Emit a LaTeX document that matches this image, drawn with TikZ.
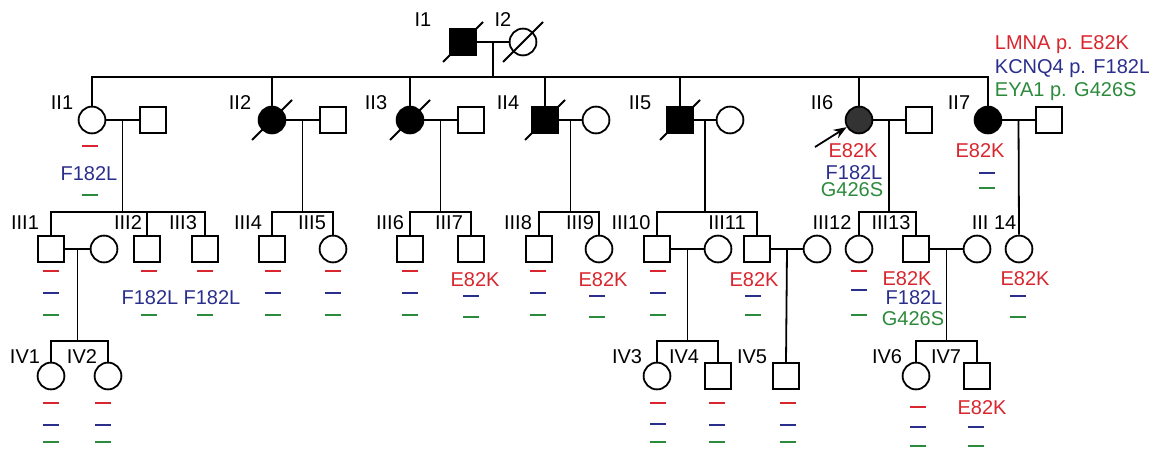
\documentclass[tikz,border=0pt]{standalone}
\usepackage{fontspec}
\setmainfont{Liberation Sans}
\usetikzlibrary{arrows.meta, calc}
\definecolor{mred}{HTML}{D9262E}
\definecolor{mblue}{HTML}{2B2F8C}
\definecolor{mgreen}{HTML}{2C8A3C}

\begin{document}
\begin{tikzpicture}[
    x=0.5pt, y=-0.5pt, line width=0.9pt,
    msym/.style={draw, rectangle, minimum size=12.8pt, inner sep=0pt},
    fsym/.style={draw, circle, minimum size=13.4pt, inner sep=0pt},
    aff/.style={fill=black},
    idlab/.style={font=\fontsize{10}{12}\selectfont, inner sep=0pt},
    mut/.style={font=\fontsize{10}{12}\selectfont, inner sep=0pt},
    wt/.style={line width=0.6pt},
    ar/.style={-{Stealth[length=2.3mm]}}
  ]
  \useasboundingbox (0,0) rectangle (1149,449);

  % generation I
  \node[msym, aff] (i1) at (463,42) {};
  \node[fsym] (i2) at (523,42) {};
  % generation II
  \node[fsym] (ii1) at (92,120) {};
  \node[msym] (ii1p) at (153,120) {};
  \node[fsym, aff] (ii2) at (272,120) {};
  \node[msym] (ii2p) at (333,120) {};
  \node[fsym, aff] (ii3) at (410,120) {};
  \node[msym] (ii3p) at (471,120) {};
  \node[msym, aff] (ii4) at (545,120) {};
  \node[fsym] (ii4p) at (596,120) {};
  \node[msym, aff] (ii5) at (680,120) {};
  \node[fsym] (ii5p) at (730,120) {};
  \node[fsym, fill=black!80] (ii6) at (859,120) {};
  \node[msym] (ii6p) at (919,120) {};
  \node[fsym, aff] (ii7) at (988,120) {};
  \node[msym] (ii7p) at (1049,120) {};
  % generation III
  \node[msym] (iii1) at (51,249) {};
  \node[fsym] (iii1p) at (104,249) {};
  \node[msym] (iii2) at (147,249) {};
  \node[msym] (iii3) at (205,249) {};
  \node[msym] (iii4) at (272,249) {};
  \node[fsym] (iii5) at (333,249) {};
  \node[msym] (iii6) at (410,249) {};
  \node[msym] (iii7) at (471,249) {};
  \node[msym] (iii8) at (539,249) {};
  \node[fsym] (iii9) at (599,249) {};
  \node[msym] (iii10) at (657,249) {};
  \node[fsym] (iii10p) at (718,249) {};
  \node[msym] (iii11) at (757,249) {};
  \node[fsym] (iii11p) at (817,249) {};
  \node[fsym] (iii12) at (859,249) {};
  \node[msym] (iii13) at (916,249) {};
  \node[fsym] (iii13p) at (977,249) {};
  \node[fsym] (iii14) at (1019,249) {};
  % generation IV
  \node[fsym] (iv1) at (51,376) {};
  \node[fsym] (iv2) at (108,376) {};
  \node[fsym] (iv3) at (657,376) {};
  \node[msym] (iv4) at (718,376) {};
  \node[msym] (iv5) at (786,376) {};
  \node[fsym] (iv6) at (916,376) {};
  \node[msym] (iv7) at (977,376) {};

  % couples
  \foreach \a/\b in {i1/i2, ii1/ii1p, ii2/ii2p, ii3/ii3p, ii4/ii4p, ii5/ii5p, ii6/ii6p, ii7/ii7p,
                     iii1/iii1p, iii10/iii10p, iii11/iii11p, iii13/iii13p} {
    \draw (\a) -- (\b);
    \coordinate (\a m) at ($(\a)!.5!(\b)$);
  }

  % sibships
  \draw (i1m) -- ++(0,35) coordinate (i1s);
  \draw (ii1.north) |- (i1s) -| (ii7.north);
  \foreach \c in {ii2, ii3, ii4, ii5, ii6}
    \draw (\c.north) -- (\c.north |- i1s);
  \foreach \p/\a/\b in {ii1/iii1/iii3, ii2/iii4/iii5, ii3/iii6/iii7, ii4/iii8/iii9, ii5/iii10/iii11,
                        ii6/iii12/iii13, iii1/iv1/iv2, iii10/iv3/iv4, iii13/iv6/iv7} {
    \draw (\p m) -- ++(0,92) coordinate (\p s);
    \draw (\a.north) |- (\p s) -| (\b.north);
  }
  \draw (iii2.north) -- (iii2.north |- ii1s);
  \draw (ii7m) -- (iii14.north);
  \draw (iii11m) -- (iv5.north);

  % deceased
  \foreach \n in {i1, i2, ii2, ii3, ii4, ii5}
    \draw ($(\n)+(-20,20)$) -- ($(\n)+(20,-20)$);

  % proband
  \coordinate (pb) at (815,147);
  \draw[ar] (pb) -- (ii6.210);

  % ids
  \foreach \t/\x/\y in {I1/423/20, I2/503/20,
      II1/62/103, II2/240/103, II3/376/103, II4/508/103, II5/640/103, II6/822/103, II7/959/103,
      III1/25/223, III2/128/223, III3/183/223, III4/248/223, III5/312/223, III6/390/223,
      III7/449/223, III8/518/223, III9/580/223, III10/631/223, III11/727/223, III12/832/223,
      III13/891/223, IV1/25/357, IV2/82/357, IV3/627/357, IV4/684/357, IV5/752/357,
      IV6/887/357, IV7/946/357}
    \node[idlab] (l\t) at (\x,\y) {\t};
  \node[idlab] (lIII14) at (994,223) {III 14};

  % legend
  \node[mut, mred, anchor=base west] (leg1) at (994,50) {LMNA p. E82K};
  \node[mut, mblue, anchor=base west] (leg2) at (994,74) {KCNQ4 p. F182L};
  \node[mut, mgreen, anchor=base west] (leg3) at (994,97) {EYA1 p. G426S};

  % variants found
  \foreach \n/\x/\y in {ii6/853/151, ii7/980/151, iii7/475/280, iii9/603/280, iii11/754/280,
                        iii13/907/279, iii14/1025/279, iv7/982/408}
    \node[mut, mred] (e\n) at (\x,\y) {E82K};
  \foreach \n/\x/\y in {ii1/89/174, iii2/150/298, iii3/212/298, ii6/854/173, iii13/914/298}
    \node[mut, mblue] (k\n) at (\x,\y) {F182L};
  \foreach \n/\x/\y in {ii6/852/190, iii13/913/319}
    \node[mut, mgreen] (g\n) at (\x,\y) {G426S};

  % variants absent
  \foreach \x/\y in {90/146, 51/271, 149/271, 205/271, 273/271, 333/271, 410/271, 538/271,
                     658/271, 859/271, 51/403, 103/403, 658/403, 717/403, 788/403, 918/407}
    \draw[wt, mred] (\x-8,\y) -- (\x+8,\y);
  \foreach \x/\y in {987/173, 51/293, 273/293, 333/293, 410/293, 471/296, 538/293, 597/296,
                     658/293, 753/296, 859/290, 1018/296, 51/425, 103/425, 658/424, 717/425,
                     788/425, 918/427, 976/427}
    \draw[wt, mblue] (\x-8,\y) -- (\x+8,\y);
  \foreach \x/\y in {90/195, 987/188, 51/315, 149/315, 205/315, 273/315, 333/315, 410/315,
                     471/317, 538/315, 597/317, 658/315, 753/315, 859/315, 1018/317,
                     51/442, 103/442, 658/442, 717/442, 788/442, 918/446, 976/446}
    \draw[wt, mgreen] (\x-8,\y) -- (\x+8,\y);
\end{tikzpicture}
\end{document}
